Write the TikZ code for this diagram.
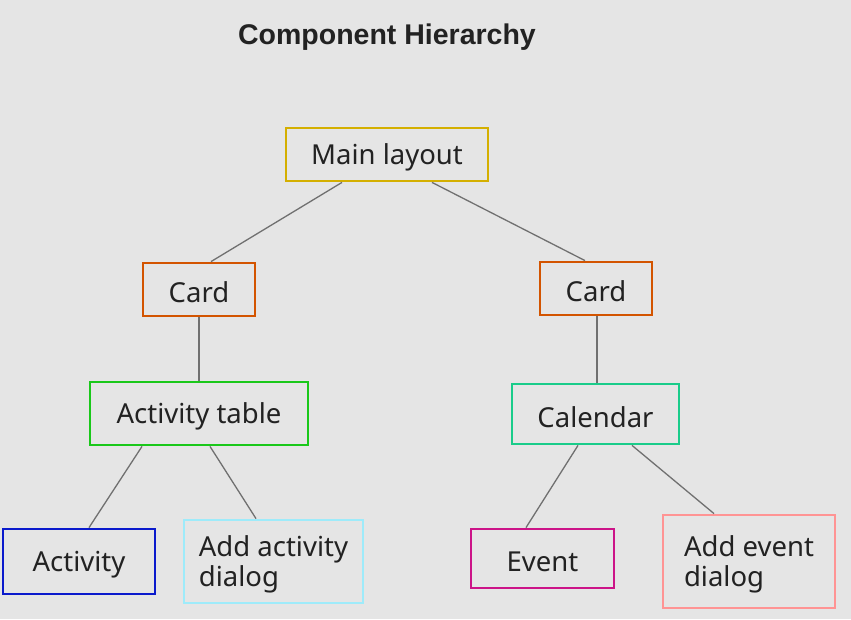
\documentclass[tikz,border=0pt]{standalone}
\usepackage{fontspec}
\setmainfont{Noto Sans}
\newfontfamily\titlefont{Liberation Sans}
\newcommand\lowr[1]{\raisebox{-3pt}[\height][\depth]{#1}}
\definecolor{bg}{HTML}{E5E5E5}
\definecolor{txt}{HTML}{222222}
\definecolor{conn}{HTML}{707070}
\definecolor{cMain}{HTML}{D4AF00}
\definecolor{cCard}{HTML}{D35400}
\definecolor{cTable}{HTML}{1AC81A}
\definecolor{cCal}{HTML}{1ACC8A}
\definecolor{cAct}{HTML}{0A1ACC}
\definecolor{cAdd}{HTML}{9EEBFA}
\definecolor{cEvent}{HTML}{CC1488}
\definecolor{cAddEv}{HTML}{FF9494}
\tikzset{
  comp/.style={draw=#1, line width=2.8pt, text=txt, inner sep=0pt, align=left,
    font=\fontsize{27.5}{30}\selectfont},
  conn/.style={draw=conn, line width=1.3pt},
}
\begin{document}
\begin{tikzpicture}[x=1pt,y=-1pt]
\fill[bg] (0,0) rectangle (851,619);
\useasboundingbox (0,0) rectangle (851,619);
\node[text=txt, font=\titlefont\bfseries\fontsize{28.5}{32}\selectfont] (title) at (387,37) {Component Hierarchy};
\node[comp=cMain, minimum width=202pt, minimum height=53pt] (main) at (387,154.5) {\lowr{Main layout}};
\node[comp=cCard, minimum width=112pt, minimum height=53pt] (cardL) at (199,289.5) {\lowr{Card}};
\node[comp=cCard, minimum width=112pt, minimum height=53pt] (cardR) at (596,288.5) {\lowr{Card}};
\node[comp=cTable, minimum width=218pt, minimum height=63pt] (table) at (199,413.5) {\lowr{Activity table}};
\node[comp=cCal, minimum width=167pt, minimum height=60pt] (cal) at (595.5,414) {\lowr{Calendar}};
\node[comp=cAct, minimum width=152pt, minimum height=65pt] (act) at (79,561.5) {\lowr{Activity}};
\node[comp=cAdd, minimum width=179pt, minimum height=83pt] (addact) at (273.5,561.5) {\lowr{Add activity}\\\lowr{dialog}};
\node[comp=cEvent, minimum width=143pt, minimum height=59pt] (event) at (542.5,558.5) {\lowr{Event}};
\node[comp=cAddEv, minimum width=172pt, minimum height=93pt] (addev) at (749,561.5) {\lowr{Add event}\\\lowr{dialog}};
\draw[conn] ([xshift=-45pt]main.south) -- ([xshift=12pt]cardL.north);
\draw[conn] ([xshift=45pt]main.south) -- ([xshift=-11pt]cardR.north);
\draw[conn] (cardL.south) -- (table.north);
\draw[conn] ([xshift=1pt]cardR.south) -- ([xshift=1.5pt]cal.north);
\draw[conn] ([xshift=-57pt]table.south) -- ([xshift=10pt]act.north);
\draw[conn] ([xshift=11pt]table.south) -- ([xshift=-17.5pt]addact.north);
\draw[conn] ([xshift=-17.5pt]cal.south) -- ([xshift=-16.5pt]event.north);
\draw[conn] ([xshift=36.5pt]cal.south) -- ([xshift=-35pt]addev.north);
\end{tikzpicture}
\end{document}
